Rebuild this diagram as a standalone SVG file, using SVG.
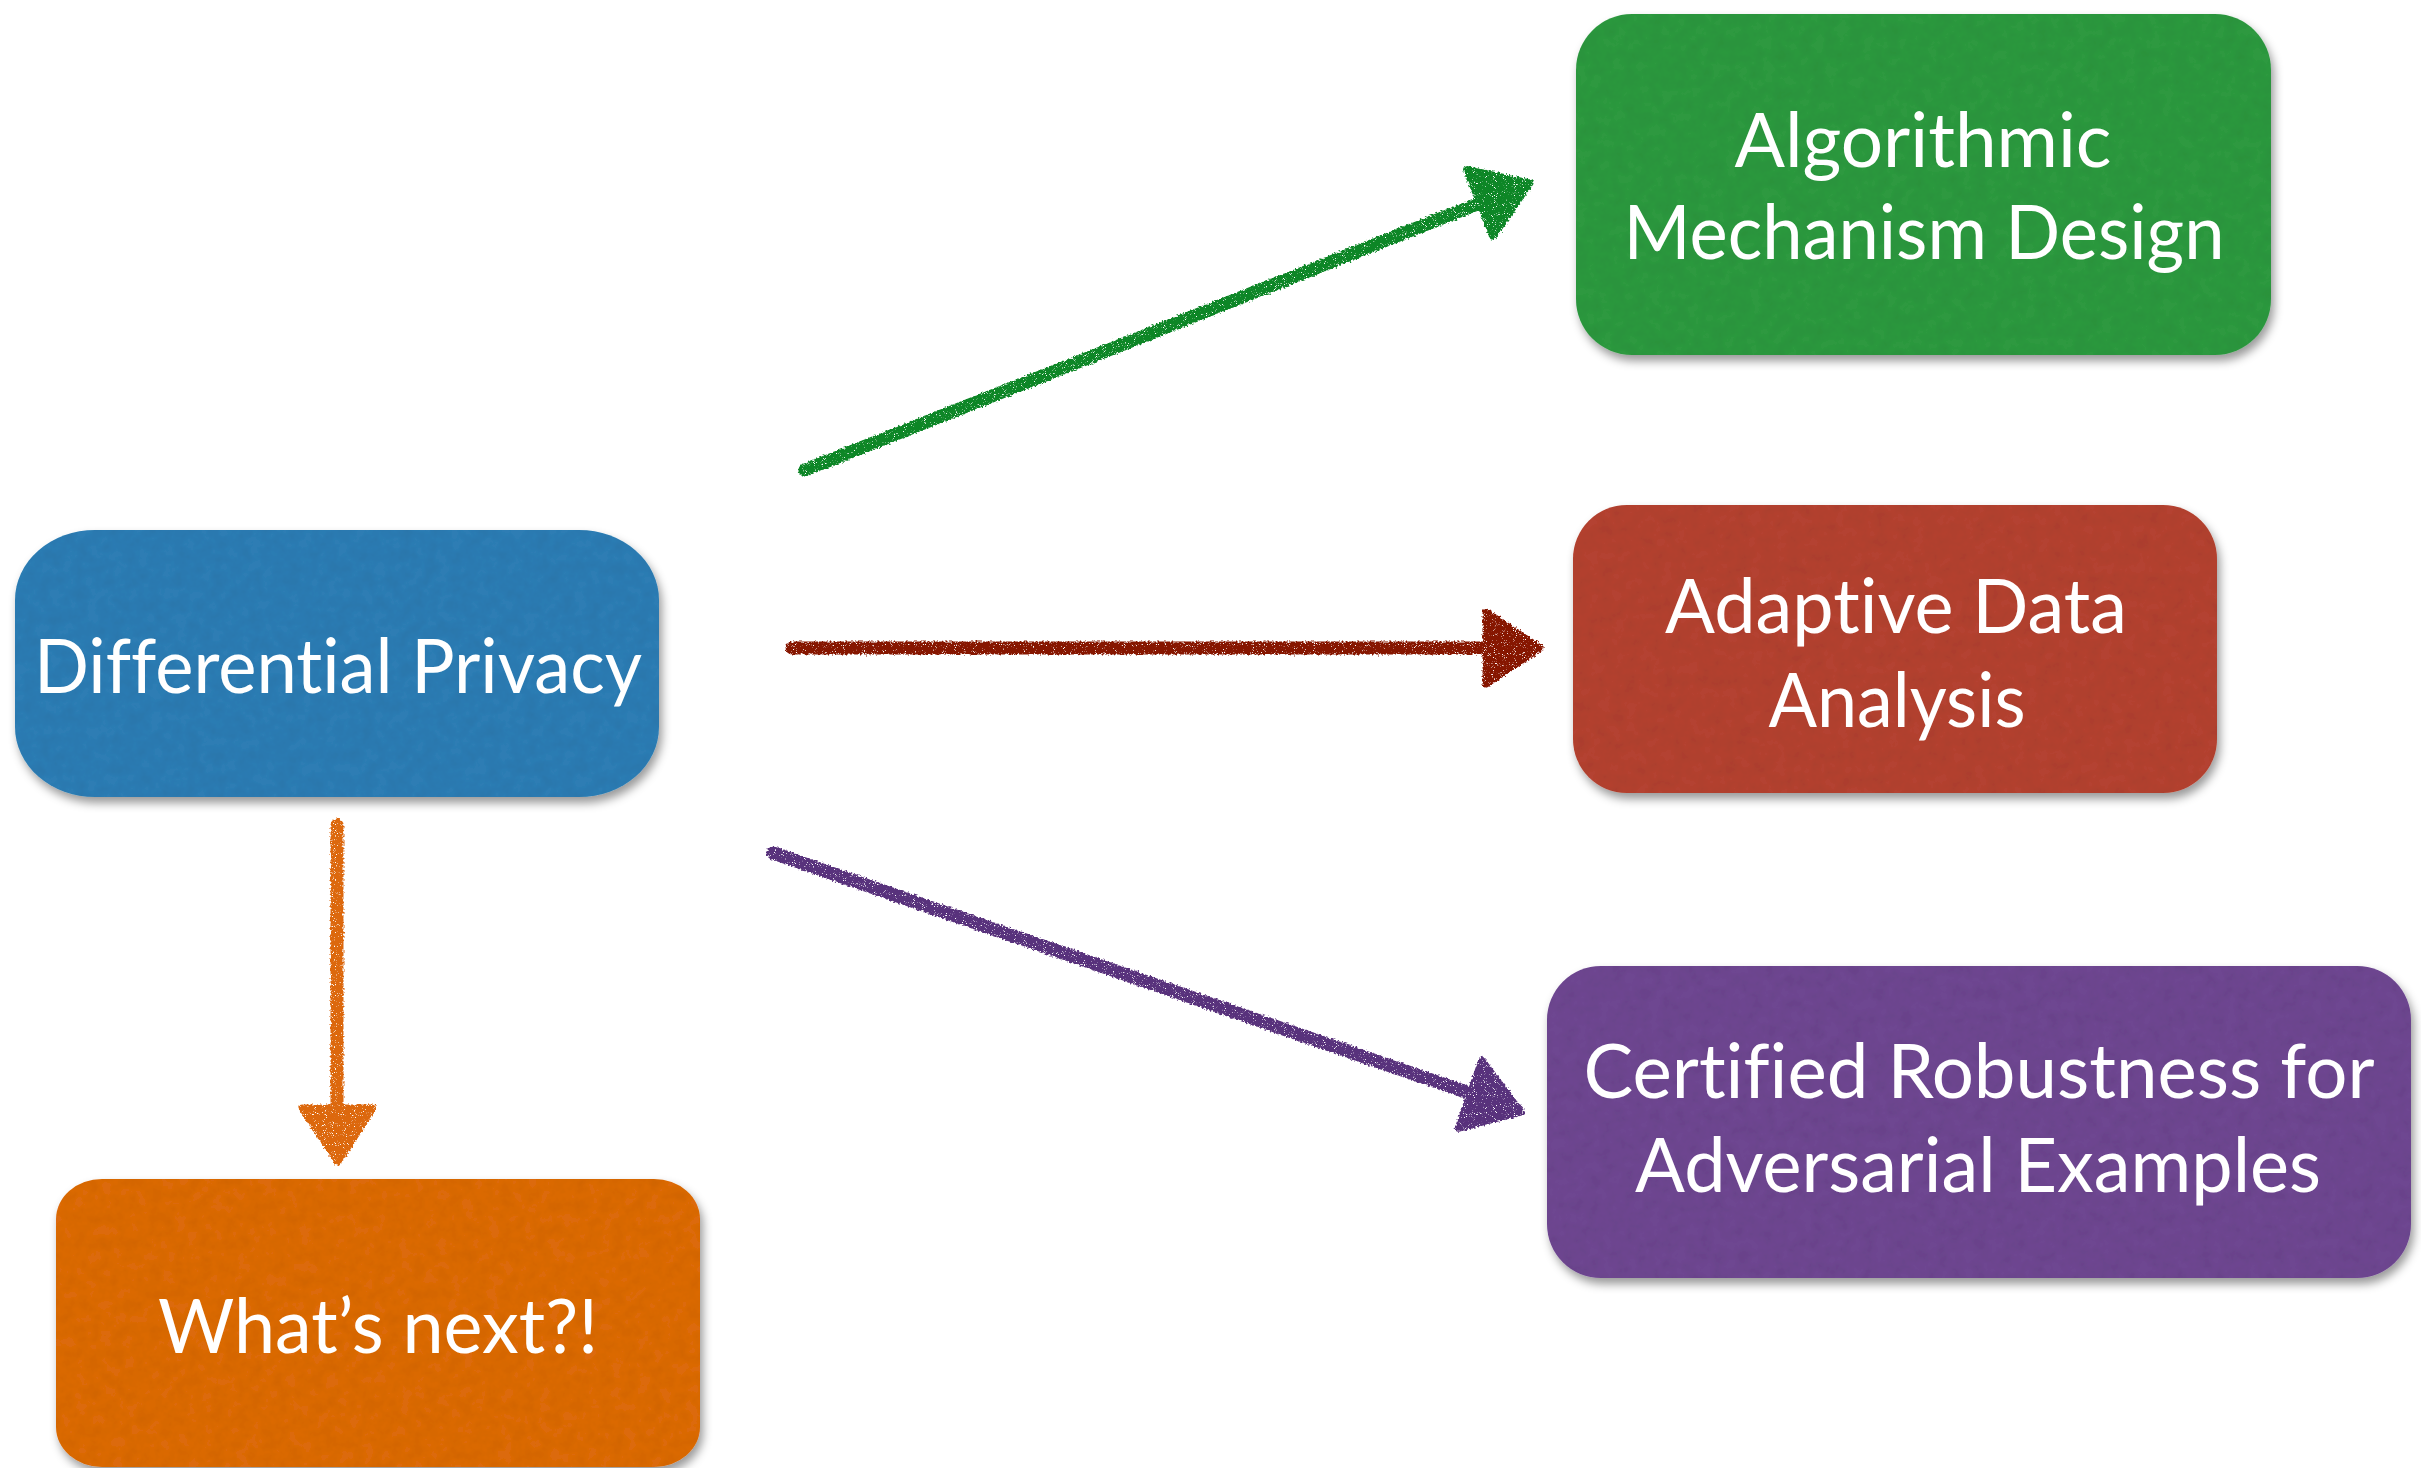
<svg xmlns="http://www.w3.org/2000/svg" width="2421" height="1468" viewBox="0 0 2421 1468">
  <defs>
    <style>
      .label { font-family: "Gill Sans", Lato, "Open Sans", "DejaVu Sans", sans-serif; font-size: 76px; fill: #ffffff; text-anchor: middle; font-variant-ligatures: none; font-feature-settings: "liga" 0, "dlig" 0; }
      .stroke { fill: none; stroke-width: 13; stroke-linecap: round; }
      .head { stroke-width: 7; stroke-linejoin: round; }
    </style>
    <!-- card: soft drop shadow plus a faint paper grain -->
    <filter id="card" filterUnits="userSpaceOnUse" x="0" y="0" width="2421" height="1468">
      <feGaussianBlur in="SourceAlpha" stdDeviation="5"/>
      <feOffset dx="3" dy="6" result="sb"/>
      <feFlood flood-color="#000000" flood-opacity="0.4"/>
      <feComposite in2="sb" operator="in" result="shadow"/>
      <feTurbulence type="fractalNoise" baseFrequency="0.08" numOctaves="3" seed="2" result="t"/>
      <feColorMatrix in="t" type="matrix" values="0 0 0 0 0  0 0 0 0 0  0 0 0 0 0  0.18 0 0 0 -0.06" result="g"/>
      <feComposite in="g" in2="SourceAlpha" operator="in" result="grain"/>
      <feMerge>
        <feMergeNode in="shadow"/>
        <feMergeNode in="SourceGraphic"/>
        <feMergeNode in="grain"/>
      </feMerge>
    </filter>
    <!-- crayon: rough edges and small gaps in the stroke -->
    <filter id="crayon" filterUnits="userSpaceOnUse" x="0" y="0" width="2421" height="1468">
      <feTurbulence type="fractalNoise" baseFrequency="0.5" numOctaves="2" seed="3" result="n"/>
      <feDisplacementMap in="SourceGraphic" in2="n" scale="5" xChannelSelector="R" yChannelSelector="G" result="d"/>
      <feTurbulence type="fractalNoise" baseFrequency="1.1" numOctaves="1" seed="7" result="n2"/>
      <feColorMatrix in="n2" type="matrix" values="0 0 0 0 0  0 0 0 0 0  0 0 0 0 0  -9 0 0 0 6.6" result="holes"/>
      <feComposite in="d" in2="holes" operator="in"/>
    </filter>
  </defs>

  <rect width="2421" height="1468" fill="#ffffff"/>

  <!-- connectors -->
  <g id="connectors" filter="url(#crayon)">
    <g id="edge-amd">
      <path class="stroke" stroke="#0f8628" d="M805,470 L1480,203"/>
      <polygon class="head" fill="#0f8628" stroke="#0f8628" points="1466.6,169.4 1530,183 1493,236.4"/>
    </g>
    <g id="edge-ada">
      <path class="stroke" stroke="#861403" d="M792,648 L1488,648"/>
      <polygon class="head" fill="#861403" stroke="#861403" points="1486,612 1540,648 1486,684"/>
    </g>
    <g id="edge-cr">
      <path class="stroke" stroke="#59307b" d="M773,853 L1472,1094"/>
      <polygon class="head" fill="#59307b" stroke="#59307b" points="1481.8,1060.3 1521,1112 1458.2,1128.3"/>
    </g>
    <g id="edge-next">
      <path class="stroke" stroke="#dc6810" d="M337,825 L337,1110"/>
      <polygon class="head" fill="#dc6810" stroke="#dc6810" points="302,1108 373,1108 338,1162"/>
    </g>
  </g>

  <!-- nodes -->
  <g id="n-dp">
    <rect x="15" y="530" width="644" height="267" rx="80" ry="70" fill="#2e7db4" filter="url(#card)"/>
    <text class="label" x="338" y="693" textLength="608" lengthAdjust="spacingAndGlyphs">Differential Privacy</text>
  </g>

  <g id="n-amd">
    <rect x="1576" y="14" width="695" height="341" rx="56" ry="56" fill="#2f9941" filter="url(#card)"/>
    <text class="label" x="1923" y="167" textLength="377" lengthAdjust="spacingAndGlyphs">Algorithmic</text>
    <text class="label" x="1924" y="259" textLength="601" lengthAdjust="spacingAndGlyphs">Mechanism Design</text>
  </g>

  <g id="n-ada">
    <rect x="1573" y="505" width="644" height="288" rx="54" ry="54" fill="#b44231" filter="url(#card)"/>
    <text class="label" x="1896" y="633" textLength="462" lengthAdjust="spacingAndGlyphs">Adaptive Data</text>
    <text class="label" x="1897" y="727" textLength="257" lengthAdjust="spacingAndGlyphs">Analysis</text>
  </g>

  <g id="n-cr">
    <rect x="1547" y="966" width="864" height="312" rx="54" ry="54" fill="#6e4791" filter="url(#card)"/>
    <text class="label" x="1979" y="1098" textLength="791" lengthAdjust="spacingAndGlyphs">Certified Robustness for</text>
    <text class="label" x="1978" y="1192" textLength="686" lengthAdjust="spacingAndGlyphs">Adversarial Examples</text>
  </g>

  <g id="n-next">
    <rect x="56" y="1179" width="644" height="288" rx="46" ry="40" fill="#dc6a10" filter="url(#card)"/>
    <text class="label" x="378" y="1353" textLength="440" lengthAdjust="spacingAndGlyphs">What’s next?!</text>
  </g>
</svg>
